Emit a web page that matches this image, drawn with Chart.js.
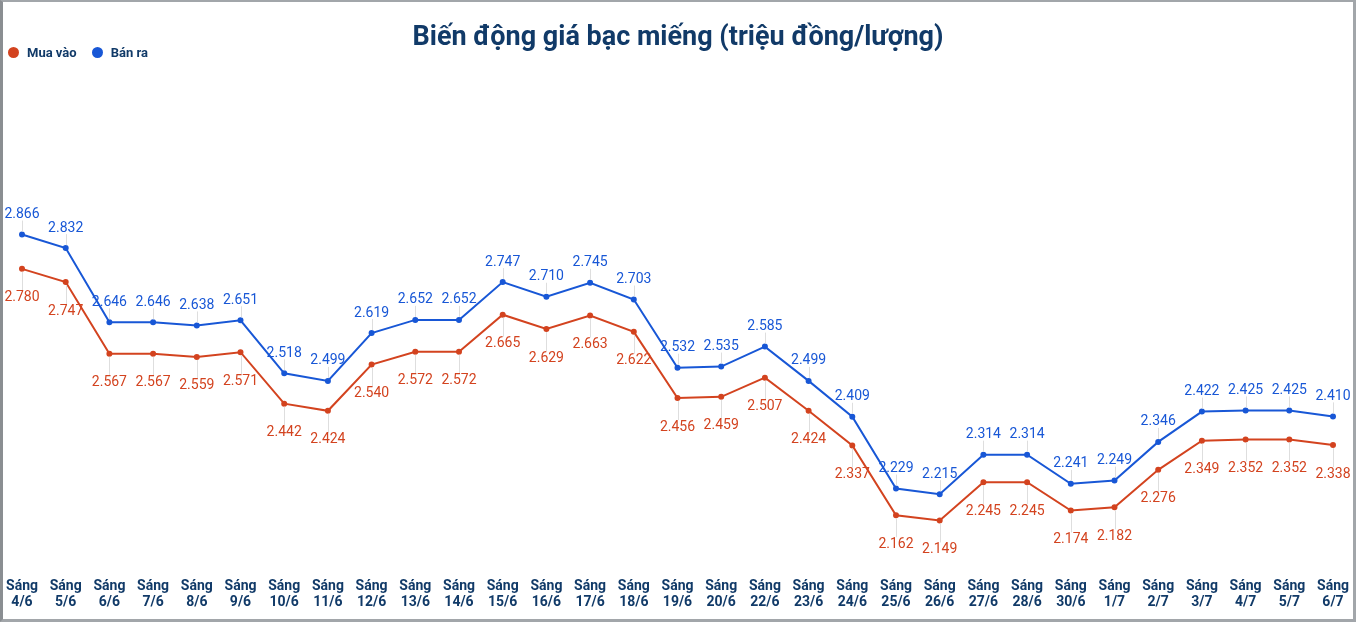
<!DOCTYPE html>
<html>
<head>
<meta charset="utf-8">
<script src="https://cdn.jsdelivr.net/npm/chart.js@4"></script>
<style>
	html, body { margin: 0; padding: 0; background: #fff; }
	#wrap { position: relative; width: 1356px; height: 622px; font-family: Roboto, sans-serif; }
	#frame { position: absolute; left: 0; top: 0; width: 1356px; height: 622px; box-sizing: border-box;
		border-top: 2px solid #a2a6aa; border-right: 3px solid #a2a6aa; border-bottom: 3px solid #a2a6aa; border-left: 3px solid #8a8e92; pointer-events: none; }
	#title { position: absolute; left: 0; width: 1356px; top: 20px; line-height: 32px; text-align: center; font-weight: bold; font-size: 27px; color: #113a68; }
	#legend { position: absolute; left: 8px; top: 45px; line-height: 16px; font-size: 13px; font-weight: bold; color: #113a68; }
	#legend span { display: inline-block; margin-right: 15px; }
	#legend i { display: inline-block; width: 11px; height: 11px; border-radius: 50%; vertical-align: -1px; margin-right: 8px; }
</style>
</head>
<body>
<div id="wrap">
	<canvas id="chartGia" width="1356" height="622"></canvas>
	<div id="title">Biến động giá bạc miếng (triệu đồng/lượng)</div>
	<div id="legend">
		<span><i style="background:#d3431f"></i>Mua vào</span><span><i style="background:#1857d6"></i>Bán ra</span>
	</div>
	<div id="frame"></div>
</div>
<script>
// du lieu
var ngay = ["4/6", "5/6", "6/6", "7/6", "8/6", "9/6", "10/6", "11/6", "12/6", "13/6", "14/6", "15/6", "16/6", "17/6", "18/6", "19/6",
	"20/6", "22/6", "23/6", "24/6", "25/6", "26/6", "27/6", "28/6", "30/6", "1/7", "2/7", "3/7", "4/7", "5/7", "6/7"]
var muaVao = [2.780, 2.747, 2.567, 2.567, 2.559, 2.571, 2.442, 2.424, 2.540, 2.572, 2.572, 2.665, 2.629, 2.663, 2.622, 2.456,
	2.459, 2.507, 2.424, 2.337, 2.162, 2.149, 2.245, 2.245, 2.174, 2.182, 2.276, 2.349, 2.352, 2.352, 2.338]
var banRa = [2.866, 2.832, 2.646, 2.646, 2.638, 2.651, 2.518, 2.499, 2.619, 2.652, 2.652, 2.747, 2.710, 2.745, 2.703, 2.532,
	2.535, 2.585, 2.499, 2.409, 2.229, 2.215, 2.314, 2.314, 2.241, 2.249, 2.346, 2.422, 2.425, 2.425, 2.410]

var labels = []
for (d of ngay) {
	labels.push(["Sáng", d])
}

var mauDo = '#d3431f'
var mauXanh = '#1857d6'

// ve nhan gia tri tren / duoi diem
var nhanGiaTri = {
	id: 'nhanGiaTri',
	afterDatasetsDraw: function (chart) {
		var ctx = chart.ctx
		ctx.save()
		ctx.font = '14px Roboto'
		ctx.textAlign = 'center'
		ctx.textBaseline = 'middle'
		chart.data.datasets.forEach(function (ds, i) {
			var meta = chart.getDatasetMeta(i)
			var tren = i == 1
			meta.data.forEach(function (pt, j) {
				var y = tren ? pt.y - 20 : pt.y + 29
				ctx.strokeStyle = '#dedede'
				ctx.lineWidth = 1
				ctx.beginPath()
				ctx.moveTo(Math.round(pt.x) + 0.5, tren ? pt.y - 3 : pt.y + 3)
				ctx.lineTo(Math.round(pt.x) + 0.5, tren ? y + 6 : y - 7)
				ctx.stroke()
				ctx.fillStyle = ds.borderColor
				ctx.fillText(ds.data[j].toFixed(3), pt.x, y)
			})
		})
		ctx.restore()
	}
}

var ctxL = document.getElementById("chartGia").getContext('2d')
var myLineChart = new Chart(ctxL, {
	type: 'line',
	data: {
		labels: labels,
		datasets: [
			{
				label: "Mua vào",
				data: muaVao,
				borderColor: mauDo,
				backgroundColor: mauDo,
				borderWidth: 2,
				pointRadius: 2,
				pointHoverRadius: 2,
				tension: 0
			},
			{
				label: "Bán ra",
				data: banRa,
				borderColor: mauXanh,
				backgroundColor: mauXanh,
				borderWidth: 2,
				pointRadius: 2,
				pointHoverRadius: 2,
				tension: 0
			}
		]
	},
	options: {
		responsive: false,
		animation: false,
		layout: {
			padding: { top: 221, left: 22, right: 23, bottom: 14 }
		},
		plugins: {
			legend: { display: false },
			title: { display: false },
			tooltip: { enabled: false }
		},
		scales: {
			x: {
				offset: false,
				grid: { display: false },
				border: { display: false },
				afterFit: function (scale) {
					// giu co dinh kich thuoc truc x
					scale.height = 68
					scale.paddingLeft = 0
					scale.paddingRight = 0
				},
				ticks: {
					color: '#113a68',
					padding: 31,
					maxRotation: 0,
					autoSkip: false,
					font: { family: 'Roboto', size: 14, weight: 'bold', lineHeight: 1.1 }
				}
			},
			y: {
				display: false,
				min: 2.1,
				max: 2.9
			}
		}
	},
	plugins: [nhanGiaTri]
})
</script>
</body>
</html>
